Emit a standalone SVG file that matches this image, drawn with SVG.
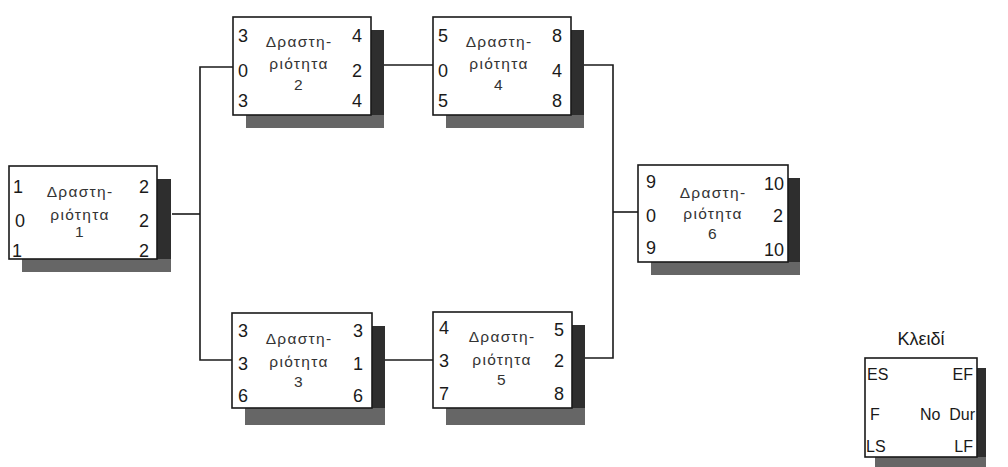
<svg xmlns="http://www.w3.org/2000/svg" width="1008" height="467" viewBox="0 0 1008 467">
<style>
.bg{fill:#ffffff}
.box{fill:#ffffff;stroke:#1a1a1a;stroke-width:1.6}
.shR{fill:#2e2e2e}
.shB{fill:#666666}
.num{font-family:"Liberation Sans",Arial,sans-serif;font-size:18px;fill:#1a1a1a}
.lbl{font-family:"Liberation Sans",Arial,sans-serif;font-size:15.5px;letter-spacing:1.3px;fill:#333333;text-anchor:middle}
.conn{fill:none;stroke:#1a1a1a;stroke-width:1.6}
.end{text-anchor:end}
.title{font-family:"Liberation Sans",Arial,sans-serif;font-size:18px;fill:#1a1a1a;text-anchor:middle}
.key{font-family:"Liberation Sans",Arial,sans-serif;font-size:16px;fill:#1a1a1a}
</style>
<rect class="bg" x="0" y="0" width="1008" height="467"/>
<g id="connectors">
<path class="conn" d="M172,214 H200"/>
<path class="conn" d="M233,67 H200 V360 H232"/>
<path class="conn" d="M384,65 H433"/>
<path class="conn" d="M584,65 H613 V358 H585"/>
<path class="conn" d="M385,360 H433"/>
<path class="conn" d="M613,212 H638"/>
</g>
<g id="node1">
<rect class="shR" x="157" y="179" width="14" height="93"/>
<rect class="shB" x="22" y="259" width="149" height="13"/>
<rect class="box" x="9" y="166" width="148" height="93"/>
<text class="num" x="13" y="193">1</text>
<text class="num" x="15" y="227">0</text>
<text class="num" x="12" y="257">1</text>
<text class="num end" x="149" y="193">2</text>
<text class="num end" x="149" y="227">2</text>
<text class="num end" x="149" y="257">2</text>
<text class="lbl" x="80" y="197">Δραστη-</text>
<text class="lbl" x="80" y="220">ριότητα</text>
<text class="lbl" x="80" y="237">1</text>
</g>
<g id="node2">
<rect class="shR" x="371" y="30" width="13" height="98"/>
<rect class="shB" x="246" y="115" width="138" height="13"/>
<rect class="box" x="233" y="17" width="138" height="98"/>
<text class="num" x="238" y="42">3</text>
<text class="num" x="238" y="77">0</text>
<text class="num" x="238" y="107">3</text>
<text class="num end" x="362" y="42">4</text>
<text class="num end" x="362" y="77">2</text>
<text class="num end" x="362" y="107">4</text>
<text class="lbl" x="299" y="47">Δραστη-</text>
<text class="lbl" x="299" y="69">ριότητα</text>
<text class="lbl" x="299" y="90">2</text>
</g>
<g id="node4">
<rect class="shR" x="571" y="30" width="13" height="98"/>
<rect class="shB" x="446" y="115" width="138" height="13"/>
<rect class="box" x="433" y="17" width="138" height="98"/>
<text class="num" x="438" y="42">5</text>
<text class="num" x="438" y="77">0</text>
<text class="num" x="438" y="107">5</text>
<text class="num end" x="562" y="42">8</text>
<text class="num end" x="562" y="77">4</text>
<text class="num end" x="562" y="107">8</text>
<text class="lbl" x="499" y="47">Δραστη-</text>
<text class="lbl" x="499" y="69">ριότητα</text>
<text class="lbl" x="499" y="90">4</text>
</g>
<g id="node3">
<rect class="shR" x="372" y="326" width="13" height="99"/>
<rect class="shB" x="245" y="408" width="140" height="17"/>
<rect class="box" x="232" y="313" width="140" height="95"/>
<text class="num" x="238" y="337">3</text>
<text class="num" x="238" y="370">3</text>
<text class="num" x="238" y="402">6</text>
<text class="num end" x="363" y="337">3</text>
<text class="num end" x="363" y="370">1</text>
<text class="num end" x="363" y="402">6</text>
<text class="lbl" x="299" y="344">Δραστη-</text>
<text class="lbl" x="299" y="367">ριότητα</text>
<text class="lbl" x="299" y="387">3</text>
</g>
<g id="node5">
<rect class="shR" x="572" y="325" width="13" height="100"/>
<rect class="shB" x="446" y="408" width="139" height="17"/>
<rect class="box" x="433" y="312" width="139" height="96"/>
<text class="num" x="439" y="334">4</text>
<text class="num" x="439" y="367">3</text>
<text class="num" x="439" y="400">7</text>
<text class="num end" x="564" y="336">5</text>
<text class="num end" x="564" y="367">2</text>
<text class="num end" x="564" y="400">8</text>
<text class="lbl" x="502" y="342">Δραστη-</text>
<text class="lbl" x="502" y="365">ριότητα</text>
<text class="lbl" x="502" y="385">5</text>
</g>
<g id="node6">
<rect class="shR" x="788" y="178" width="12" height="97"/>
<rect class="shB" x="651" y="262" width="149" height="13"/>
<rect class="box" x="638" y="165" width="150" height="97"/>
<text class="num" x="646" y="188">9</text>
<text class="num" x="646" y="222">0</text>
<text class="num" x="646" y="254">9</text>
<text class="num end" x="784" y="190">10</text>
<text class="num end" x="783" y="222">2</text>
<text class="num end" x="784" y="256">10</text>
<text class="lbl" x="713" y="198">Δραστη-</text>
<text class="lbl" x="713" y="219">ριότητα</text>
<text class="lbl" x="713" y="239">6</text>
</g>
<g id="key">
<text class="title" x="921" y="345">Κλειδί</text>
<rect class="shR" x="977" y="368" width="9" height="99"/>
<rect class="shB" x="875" y="457" width="111" height="10"/>
<rect class="box" x="865" y="358" width="112" height="99"/>
<text class="key" x="867" y="380">ES</text>
<text class="key end" x="973" y="380">EF</text>
<text class="key" x="870" y="420">F</text>
<text class="key" x="920" y="420">No</text>
<text class="key end" x="975" y="420">Dur</text>
<text class="key" x="866" y="452">LS</text>
<text class="key end" x="973" y="452">LF</text>
</g>
</svg>
